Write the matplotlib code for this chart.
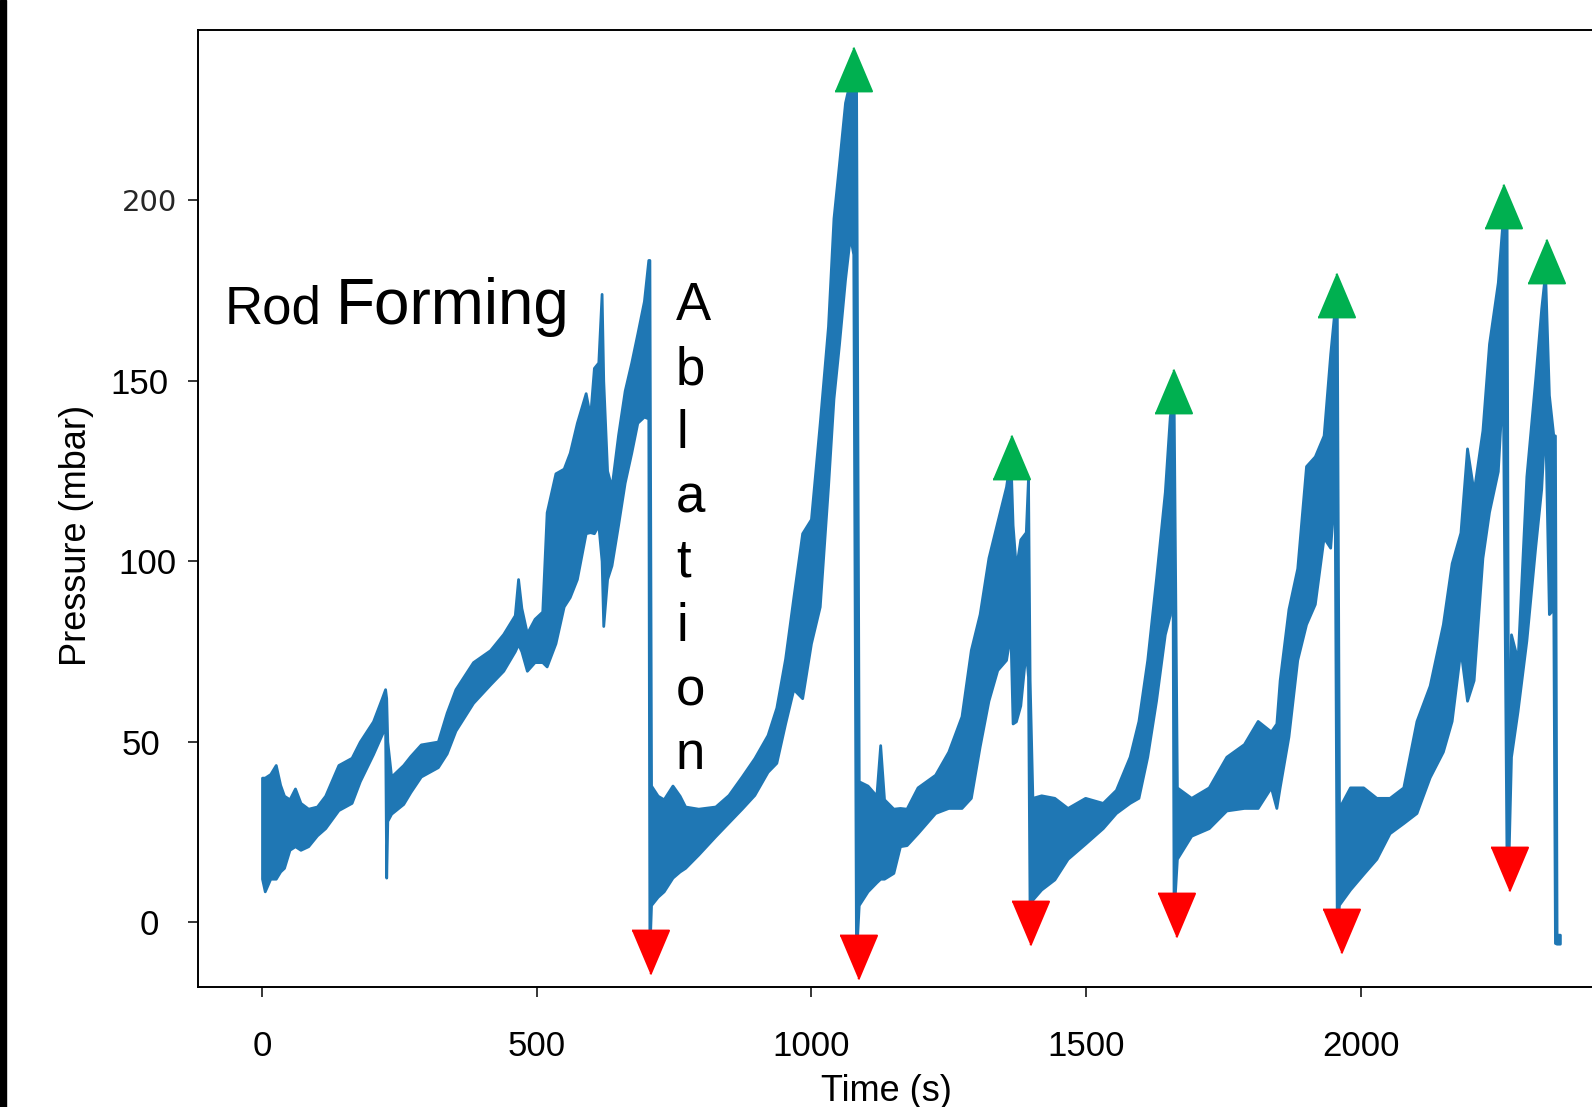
import matplotlib
matplotlib.use('Agg')
import matplotlib.pyplot as plt
from matplotlib.patches import Rectangle

time_s = [0, 5, 15, 25, 33, 40, 50, 60, 70, 84, 100, 115, 139, 163, 178, 202, 218, 224, 226, 228,
          235, 257, 270, 289, 320, 336, 352, 384, 415, 439, 460, 466, 472, 482, 496, 510, 518, 534, 549, 560,
          573, 589, 597, 604, 612, 618, 621, 628, 636, 648, 660, 672, 683, 695, 703, 705,
          708, 720, 731, 747, 760, 770, 794, 825, 849, 873, 896, 920, 936, 952, 967, 983, 999, 1015, 1030,
          1040, 1050, 1061, 1070, 1076, 1081,
          1086, 1102, 1118, 1125, 1132, 1149, 1161, 1173, 1193, 1225, 1249, 1273, 1290, 1306, 1322, 1338,
          1354, 1362, 1366, 1372, 1380, 1390, 1394, 1397,
          1402, 1418, 1442, 1466, 1498, 1530, 1554, 1579, 1595, 1611, 1627, 1643, 1652, 1657, 1659,
          1665, 1691, 1723, 1755, 1787, 1812, 1836, 1846, 1852, 1868, 1884, 1900, 1916, 1932, 1944, 1952, 1956,
          1960, 1980, 2004, 2028, 2052, 2077, 2101, 2125, 2149, 2165, 2181, 2193, 2205, 2221, 2233, 2249, 2258, 2265,
          2268, 2273, 2285, 2301, 2317, 2328, 2335, 2342, 2350, 2353, 2356, 2362]
p_low = [12, 8.5, 12, 12, 14, 15, 20, 21, 20, 21, 24, 26, 31, 33, 39, 46.5, 52, 54, 12.3, 28,
         30, 32.7, 36, 40.3, 42.9, 46.7, 53, 60.7, 65.8, 69.6, 75, 77, 75, 69.6, 72, 72, 70.8, 77.2, 87.4, 90,
         95, 107.7, 108, 107.7, 110, 100, 82, 95, 98.8, 110, 121.7, 130, 138.3, 140, 139.5, -8.4,
         4.7, 7, 8.5, 12.3, 14, 15, 18.7, 23.8, 27.6, 31.4, 35.2, 41.6, 44.1, 55, 64.5, 62, 77.2, 87.4, 120.5,
         145, 160, 178, 190, 185, -9.7,
         4.7, 8.5, 11, 12, 12, 13.6, 21, 21.3, 24.6, 30.2, 31.6, 31.6, 34.4, 48.6, 61.3, 69.8,
         72.6, 80, 55, 55.6, 60, 75.4, 68, 0,
         6.2, 9, 11.8, 17.5, 21.7, 26, 30.2, 33, 34.4, 45.8, 61.3, 79.7, 85, 100, 1.9,
         17.5, 23.9, 26, 30.9, 31.6, 31.6, 37.3, 31.6, 37.3, 51.4, 72.6, 82.5, 88.1, 106.5, 103.7, 120, -2.5,
         4.8, 9, 13.3, 17.5, 24.6, 27.4, 30.2, 40.1, 47.2, 55.7, 75.4, 61.3, 67, 100.9, 113.6, 124.9, 150, 14.6,
         14.6, 45.8, 58.5, 78, 103.7, 120, 140, 85.3, 86.7, -5.8, -6, -6]
p_high = [40, 40, 41, 43.5, 38, 35, 34, 37, 33, 31.4, 32, 35, 43.5, 45.5, 50, 55.6, 62, 64.5, 62, 50,
          40.3, 43.5, 46, 49.2, 50, 58, 64.5, 72, 75.3, 79.8, 85, 95, 87, 80, 84, 86, 113.5, 124.3, 125.6, 130,
          138.3, 146.5, 140, 153.5, 155, 174, 150, 125, 120.5, 135, 147.2, 155, 163, 172, 183.4, 183.4,
          37.8, 35, 34, 37.8, 35, 32, 31.4, 32, 35.2, 40.3, 45.4, 51.8, 59.4, 73, 90, 107.7, 111.6, 138.3, 165,
          195, 210, 227, 233, 236, 236,
          39, 37.8, 35, 49, 34, 31.4, 31.6, 31.4, 37.3, 40.8, 47.2, 57, 75.4, 85.3, 100.9, 110.8,
          120.6, 129, 110, 98, 106, 108, 123, 67,
          34.4, 35.1, 34.4, 31.6, 34.4, 33, 36.6, 45.8, 55.7, 72.6, 95.2, 119.2, 140, 145, 145,
          37.3, 34.4, 37.3, 45.8, 49.3, 55.7, 52.8, 55, 67, 86.7, 98, 126.3, 129, 134.8, 157.4, 170, 170,
          31.6, 37.3, 37.3, 34.4, 34.4, 37.3, 55.7, 65.5, 82.5, 99.4, 107.9, 131.2, 119.2, 136.2, 160.2, 177.2, 195, 195,
          30, 79.7, 72.6, 123.5, 150.3, 170, 180, 146, 134.8, 134.8, -3.5, -3.5]

# hand-placed markers on the peaks and troughs
peak_t = [1076, 1363, 1657, 1954, 2259, 2336]
peak_p = [236.2, 128.8, 147.1, 173.6, 198.4, 183.0]
trough_t = [706, 1085, 1398, 1663, 1964, 2269]
trough_p = [-8.4, -9.7, -0.3, 1.9, -2.5, 14.6]

xticks = [0, 500, 1000, 1500, 2000]
yticks = [0, 50, 100, 150, 200]
ytick_pads = [21, 20, 8, 14, 8]

plt.rcParams['font.family'] = ['Liberation Sans', 'DejaVu Sans']
W, H = 1592, 1107
fig = plt.figure(figsize=(W / 100, H / 100), dpi=100)
ax = fig.add_axes([198 / W, 120 / H, 1402 / W, 957 / H])

blue = '#1f77b4'
ax.fill_between(time_s, p_low, p_high, color=blue, lw=2, joinstyle='round')

up = [(-19, -22.5), (19, -22.5), (0, 22.5)]
down = [(-19, 22.5), (19, 22.5), (0, -22.5)]
ax.plot(peak_t, peak_p, ls='none', marker=up, ms=31.5, mfc='#00B050', mec='#00B050', mew=1.5, zorder=5)
ax.plot(trough_t, trough_p, ls='none', marker=down, ms=31.5, mfc='#FF0000', mec='#FF0000', mew=1.5, zorder=5)

ax.set_xlim(-116.5, 2435)
ax.set_ylim(-18, 247.1)
for s in ax.spines.values():
    s.set_linewidth(1.4)

ax.set_xticks(xticks, labels=[str(v) for v in xticks])
ax.set_yticks(yticks, labels=[str(v) for v in yticks])
ax.tick_params(length=7.2, width=1.1, labelsize=25)
ax.tick_params(axis='x', pad=24)
for tk, pd in zip(ax.yaxis.get_major_ticks(), ytick_pads):
    tk.set_pad(pd)
lab200 = ax.get_yticklabels()[-1]
lab200.set_fontfamily('DejaVu Sans')
lab200.set_fontsize(21)
lab200.set_color('#262626')

ax.set_xlabel('Time (s)', fontsize=26, va='top')
ax.xaxis.set_label_coords((886 - 198) / 1402, (987 - 1074) / 957)
ax.set_ylabel('Pressure (mbar)', fontsize=26, va='center')
ax.yaxis.set_label_coords((77 - 198) / 1402, (987 - 535) / 957)

# annotations
fig.text(225 / W, 1 - 324 / H, 'Rod', fontsize=38, va='baseline')
fig.text(336 / W, 1 - 324 / H, 'Forming', fontsize=46, va='baseline')
for i, ch in enumerate('Ablation'):
    fig.text(676 / W, 1 - (320 + i * 64.2) / H, ch, fontsize=38, va='baseline')

# black frame edge on the left of the picture
fig.add_artist(Rectangle((0, 0), 6 / W, 1, transform=fig.transFigure, color='black'))

fig.savefig('out.png', dpi=100)
